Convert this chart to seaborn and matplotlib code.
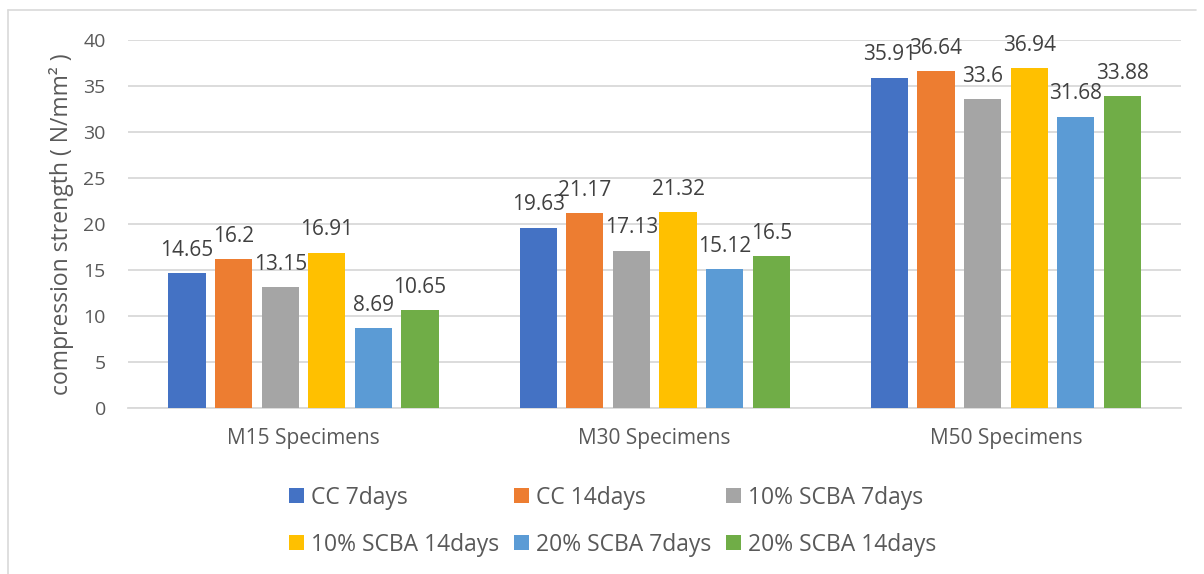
import pandas as pd
import seaborn as sns
import matplotlib.pyplot as plt
from matplotlib.patches import Patch
from matplotlib.lines import Line2D

# chart data
groups = ["M15 Specimens", "M30 Specimens", "M50 Specimens"]
series = ["CC 7days", "CC 14days", "10% SCBA 7days",
          "10% SCBA 14days", "20% SCBA 7days", "20% SCBA 14days"]
cc_7 = [14.65, 19.63, 35.91]
cc_14 = [16.2, 21.17, 36.64]
scba10_7 = [13.15, 17.13, 33.6]
scba10_14 = [16.91, 21.32, 36.94]
scba20_7 = [8.69, 15.12, 31.68]
scba20_14 = [10.65, 16.5, 33.88]
y_ticks = [0, 5, 10, 15, 20, 25, 30, 35, 40]

colors = ["#4472C4", "#ED7D31", "#A5A5A5", "#FFC000", "#5B9BD5", "#70AD47"]
text_grey = "#595959"


def build_frame():
    values = [cc_7, cc_14, scba10_7, scba10_14, scba20_7, scba20_14]
    rows = []
    for name, vals in zip(series, values):
        for g, v in zip(groups, vals):
            rows.append({"group": g, "series": name, "value": v})
    return pd.DataFrame(rows)


def main():
    df = build_frame()

    sns.set_theme(style="white")
    plt.rcParams["font.family"] = ["Open Sans", "DejaVu Sans"]

    fig = plt.figure(figsize=(12.04, 5.74), dpi=100)
    ax = fig.add_axes([0.1063, 0.289, 0.875, 0.641])

    sns.barplot(data=df, x="group", y="value", hue="series",
                order=groups, hue_order=series, palette=colors,
                width=0.796, gap=0.2, saturation=1, ax=ax, legend=False,
                edgecolor="none", zorder=3)

    # value labels on top of each bar
    for cont in ax.containers:
        ax.bar_label(cont, fmt="{:g}", padding=9, fontsize=15,
                     color="#404040")

    ax.set_ylim(0, 40)
    ax.set_yticks(y_ticks)
    ax.set_xlim(-0.5, 2.5)
    ax.grid(axis="y", color="#D9D9D9", linewidth=1.3, zorder=0)
    for s in ["top", "right", "left"]:
        ax.spines[s].set_visible(False)
    ax.spines["bottom"].set_color("#D9D9D9")
    ax.spines["bottom"].set_linewidth(1.3)
    ax.tick_params(axis="y", length=0, labelsize=14, labelcolor=text_grey,
                   pad=16)
    ax.tick_params(axis="x", length=0, labelsize=15, labelcolor=text_grey,
                   pad=14)
    ax.set_xlabel("")
    ax.set_ylabel("compression strength ( N/mm² )", fontsize=16.5,
                  color=text_grey, labelpad=7)

    # legend filled row by row
    handles = [Patch(facecolor=c, edgecolor="none") for c in colors]
    order = [0, 3, 1, 4, 2, 5]
    fig.legend([handles[i] for i in order], [series[i] for i in order],
               ncol=3, loc="center", bbox_to_anchor=(0.509, 0.092),
               frameon=False, fontsize=16.5, labelcolor=text_grey,
               handlelength=0.65, handleheight=0.65, handletextpad=0.3,
               columnspacing=0.65, labelspacing=1.0)

    # chart area border (left and top edges)
    fig.add_artist(Line2D([0.0066, 0.0066], [0.0, 0.983],
                          color="#D9D9D9", linewidth=1.2))
    fig.add_artist(Line2D([0.0066, 0.993], [0.983, 0.983],
                          color="#D9D9D9", linewidth=1.2))

    fig.savefig("out.png", dpi=100, facecolor="white")


if __name__ == "__main__":
    main()
